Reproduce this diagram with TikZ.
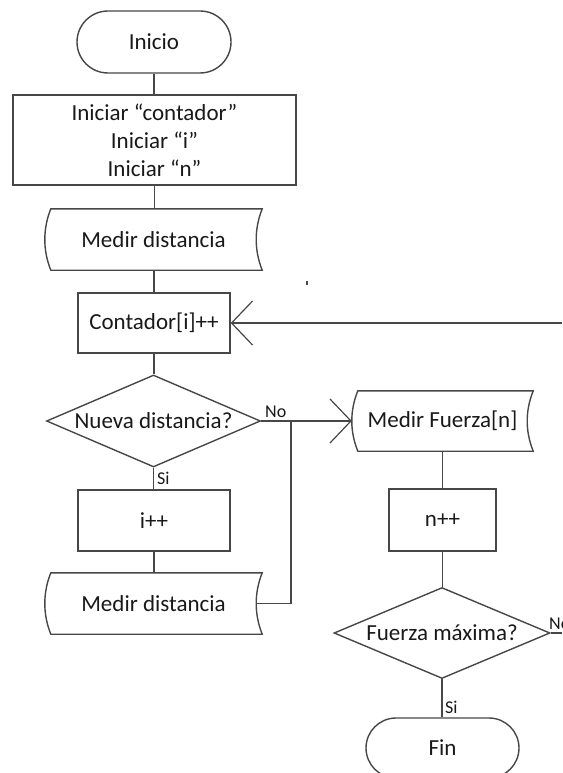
\documentclass[tikz,border=0pt]{standalone}
\usepackage{fontspec}
\setmainfont{Carlito}
\usetikzlibrary{shapes.geometric,shapes.misc,arrows.meta}

% outline of a "stored data" box: convex left side, concave right side
\newcommand\datashape[1]{%
  \draw[line] ([xshift=6pt]#1.north west)
    .. controls +(-8,20) and +(-8,-20) .. ([xshift=6pt]#1.south west)
    -- (#1.south east)
    .. controls +(-8,-20) and +(-8,20) .. (#1.north east) -- cycle;}

\begin{document}
\begin{tikzpicture}[x=1pt,y=-1pt,
  line/.style={draw=black!72, line width=1.4pt},
  txt/.style={font=\fontsize{23}{28}\selectfont, text=black!90, align=center},
  lbl/.style={font=\fontsize{18}{20}\selectfont, text=black!90, inner sep=0pt},
  terminal/.style={txt, line, rounded rectangle, inner sep=0pt},
  process/.style={txt, line, rectangle, inner sep=0pt},
  data/.style={txt, rectangle, inner sep=0pt},
  decision/.style={txt, line, diamond, aspect=2.3, inner sep=1pt},
  flowarrow/.style={line, -{Straight Barb[length=21pt, width=44pt, line width=1.2pt]}}
]
\useasboundingbox (0,0) rectangle (562,773);
\clip (0,0) rectangle (562,773);

% left column
\node[terminal, minimum width=154, minimum height=62] (inicio) at (154,42) {Inicio};
\node[process, minimum width=283, minimum height=90] (init) at (154.5,140)
  {Iniciar “contador”\\Iniciar “i”\\Iniciar “n”};
\node[data, minimum width=217, minimum height=61] (med1) at (153.5,239.5) {Medir distancia};
\node[process, minimum width=152, minimum height=60] (cont) at (154,323) {Contador[i]++};
\node[decision, minimum width=214, minimum height=92] (nueva) at (153.5,421) {Nueva distancia?};
\node[process, minimum width=152, minimum height=61] (ipp) at (154,520.5) {i++};
\node[data, minimum width=217, minimum height=61] (med2) at (153.5,603.5) {Medir distancia};

% right column
\node[data, minimum width=181, minimum height=60] (fuerza) at (442.5,421) {Medir Fuerza[n]};
\node[process, minimum width=107, minimum height=62] (npp) at (442.5,520) {n++};
\node[decision, minimum width=216, minimum height=91] (fmax) at (442,633) {Fuerza máxima?};
\node[terminal, minimum width=153, minimum height=60] (fin) at (442.5,748) {Fin};

\datashape{med1}
\datashape{med2}
\datashape{fuerza}

\coordinate (ret) at (562,323);
\coordinate (jn) at (291,421);
\coordinate (nofin) at (562,633);

% connectors
\draw[line] (inicio.south) -- (inicio.south |- init.north);
\draw[line] (init.south) -- (init.south |- med1.north);
\draw[line] (cont.north |- med1.south) -- (cont.north);
\draw[flowarrow] (ret) -- (cont.east);
\draw[line] (cont.south) -- (cont.south |- nueva.north);
\draw[line] (nueva.south) -- (nueva.south |- ipp.north);
\draw[line] (ipp.south) -- (ipp.south |- med2.north);
\draw[flowarrow] (nueva.east) -- (fuerza.west);
\draw[line] ([xshift=-6pt]med2.east) -| (jn);
\draw[line] (npp.north |- fuerza.south) -- (npp.north);
\draw[line] (npp.south) -- (npp.south |- fmax.north);
\draw[line] (fmax.east) -- (nofin);
\draw[line] (fmax.south) -- (fmax.south |- fin.north);

% branch labels
\node[lbl, anchor=base west] (no1) at (265,417) {No};
\node[lbl, anchor=base west] (si1) at (157,484) {Si};
\node[lbl, anchor=base west] (no2) at (549,629) {No};
\node[lbl, anchor=base west] (si2) at (445,713) {Si};

% small mark
\fill[black!70] (306,281) rectangle (308,285);
\end{tikzpicture}
\end{document}
